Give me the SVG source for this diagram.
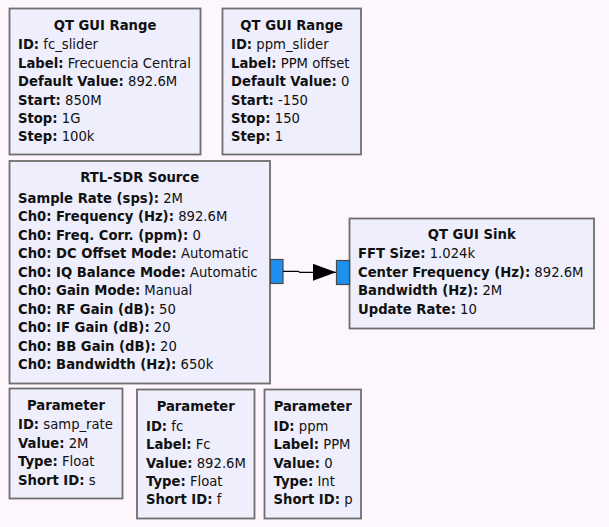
<svg xmlns="http://www.w3.org/2000/svg" width="609" height="527" viewBox="0 0 609 527">
  <defs>
    <style>
      .bg { fill: #fdf6fc; }
      .block { fill: #eeeefc; stroke: #6e6e6e; stroke-width: 1.8; }
      .port { fill: #1e90f0; stroke: #4a4a4a; stroke-width: 1.2; }
      text { font-family: "DejaVu Sans", "Liberation Sans", sans-serif; font-size: 13.2px; fill: #111; }
      .title { font-weight: bold; text-anchor: middle; }
      .k { font-weight: bold; }
      .wire { fill: none; stroke: #000; stroke-width: 1.2; }
    </style>
    <marker id="arrow" markerWidth="24" markerHeight="17" refX="23" refY="8.5" orient="auto" markerUnits="userSpaceOnUse">
      <path d="M0,0 L23,8.5 L0,17 Z" fill="#000"/>
    </marker>
  </defs>

  <rect class="bg" x="0" y="0" width="609" height="527"/>

  <!-- QT GUI Range: fc_slider -->
  <g id="fc_slider">
    <rect class="block" x="9.5" y="8.5" width="191" height="146"/>
    <text class="title" x="105" y="30">QT GUI Range</text>
    <text x="18" y="49.3"><tspan class="k">ID:</tspan> fc_slider</text>
    <text x="18" y="67.7"><tspan class="k">Label:</tspan> Frecuencia Central</text>
    <text x="18" y="86.1"><tspan class="k">Default Value:</tspan> 892.6M</text>
    <text x="18" y="104.5"><tspan class="k">Start:</tspan> 850M</text>
    <text x="18" y="122.9"><tspan class="k">Stop:</tspan> 1G</text>
    <text x="18" y="141.3"><tspan class="k">Step:</tspan> 100k</text>
  </g>

  <!-- QT GUI Range: ppm_slider -->
  <g id="ppm_slider">
    <rect class="block" x="222.5" y="8.5" width="138.5" height="146"/>
    <text class="title" x="291.7" y="30">QT GUI Range</text>
    <text x="231" y="49.3"><tspan class="k">ID:</tspan> ppm_slider</text>
    <text x="231" y="67.7"><tspan class="k">Label:</tspan> PPM offset</text>
    <text x="231" y="86.1"><tspan class="k">Default Value:</tspan> 0</text>
    <text x="231" y="104.5"><tspan class="k">Start:</tspan> -150</text>
    <text x="231" y="122.9"><tspan class="k">Stop:</tspan> 150</text>
    <text x="231" y="141.3"><tspan class="k">Step:</tspan> 1</text>
  </g>

  <!-- RTL-SDR Source -->
  <g id="rtlsdr_source">
    <rect class="block" x="9.5" y="161" width="260.5" height="222.5"/>
    <text class="title" x="139.7" y="182.3">RTL-SDR Source</text>
    <text x="18" y="202.7"><tspan class="k">Sample Rate (sps):</tspan> 2M</text>
    <text x="18" y="221.2"><tspan class="k">Ch0: Frequency (Hz):</tspan> 892.6M</text>
    <text x="18" y="239.7"><tspan class="k">Ch0: Freq. Corr. (ppm):</tspan> 0</text>
    <text x="18" y="258.2"><tspan class="k">Ch0: DC Offset Mode:</tspan> Automatic</text>
    <text x="18" y="276.7"><tspan class="k">Ch0: IQ Balance Mode:</tspan> Automatic</text>
    <text x="18" y="295.2"><tspan class="k">Ch0: Gain Mode:</tspan> Manual</text>
    <text x="18" y="313.7"><tspan class="k">Ch0: RF Gain (dB):</tspan> 50</text>
    <text x="18" y="332.2"><tspan class="k">Ch0: IF Gain (dB):</tspan> 20</text>
    <text x="18" y="350.7"><tspan class="k">Ch0: BB Gain (dB):</tspan> 20</text>
    <text x="18" y="369.2"><tspan class="k">Ch0: Bandwidth (Hz):</tspan> 650k</text>
    <rect class="port" x="270.5" y="259.5" width="12.5" height="24"/>
  </g>

  <!-- QT GUI Sink -->
  <g id="qtgui_sink">
    <rect class="block" x="349.5" y="218.5" width="244.5" height="110"/>
    <text class="title" x="471.7" y="239.2">QT GUI Sink</text>
    <text x="358" y="258.3"><tspan class="k">FFT Size:</tspan> 1.024k</text>
    <text x="358" y="276.7"><tspan class="k">Center Frequency (Hz):</tspan> 892.6M</text>
    <text x="358" y="295.1"><tspan class="k">Bandwidth (Hz):</tspan> 2M</text>
    <text x="358" y="313.5"><tspan class="k">Update Rate:</tspan> 10</text>
    <rect class="port" x="336.5" y="260.5" width="13" height="24"/>
  </g>

  <!-- Parameter: samp_rate -->
  <g id="samp_rate">
    <rect class="block" x="9.5" y="388.5" width="113" height="110"/>
    <text class="title" x="66" y="410">Parameter</text>
    <text x="18" y="429.3"><tspan class="k">ID:</tspan> samp_rate</text>
    <text x="18" y="447.7"><tspan class="k">Value:</tspan> 2M</text>
    <text x="18" y="466.1"><tspan class="k">Type:</tspan> Float</text>
    <text x="18" y="484.5"><tspan class="k">Short ID:</tspan> s</text>
  </g>

  <!-- Parameter: fc -->
  <g id="fc">
    <rect class="block" x="137" y="389.5" width="117.5" height="129"/>
    <text class="title" x="195.7" y="410.7">Parameter</text>
    <text x="146" y="430.7"><tspan class="k">ID:</tspan> fc</text>
    <text x="146" y="449.1"><tspan class="k">Label:</tspan> Fc</text>
    <text x="146" y="467.5"><tspan class="k">Value:</tspan> 892.6M</text>
    <text x="146" y="485.9"><tspan class="k">Type:</tspan> Float</text>
    <text x="146" y="504.3"><tspan class="k">Short ID:</tspan> f</text>
  </g>

  <!-- Parameter: ppm -->
  <g id="ppm">
    <rect class="block" x="264.5" y="389.5" width="96.5" height="129"/>
    <text class="title" x="312.7" y="410.7">Parameter</text>
    <text x="273.5" y="430.7"><tspan class="k">ID:</tspan> ppm</text>
    <text x="273.5" y="449.1"><tspan class="k">Label:</tspan> PPM</text>
    <text x="273.5" y="467.5"><tspan class="k">Value:</tspan> 0</text>
    <text x="273.5" y="485.9"><tspan class="k">Type:</tspan> Int</text>
    <text x="273.5" y="504.3"><tspan class="k">Short ID:</tspan> p</text>
  </g>

  <!-- Connections -->
  <g id="connections">
    <path class="wire" d="M283,271.3 L298,271.3 L300,272.3 L336,272.3" marker-end="url(#arrow)"/>
  </g>
</svg>
